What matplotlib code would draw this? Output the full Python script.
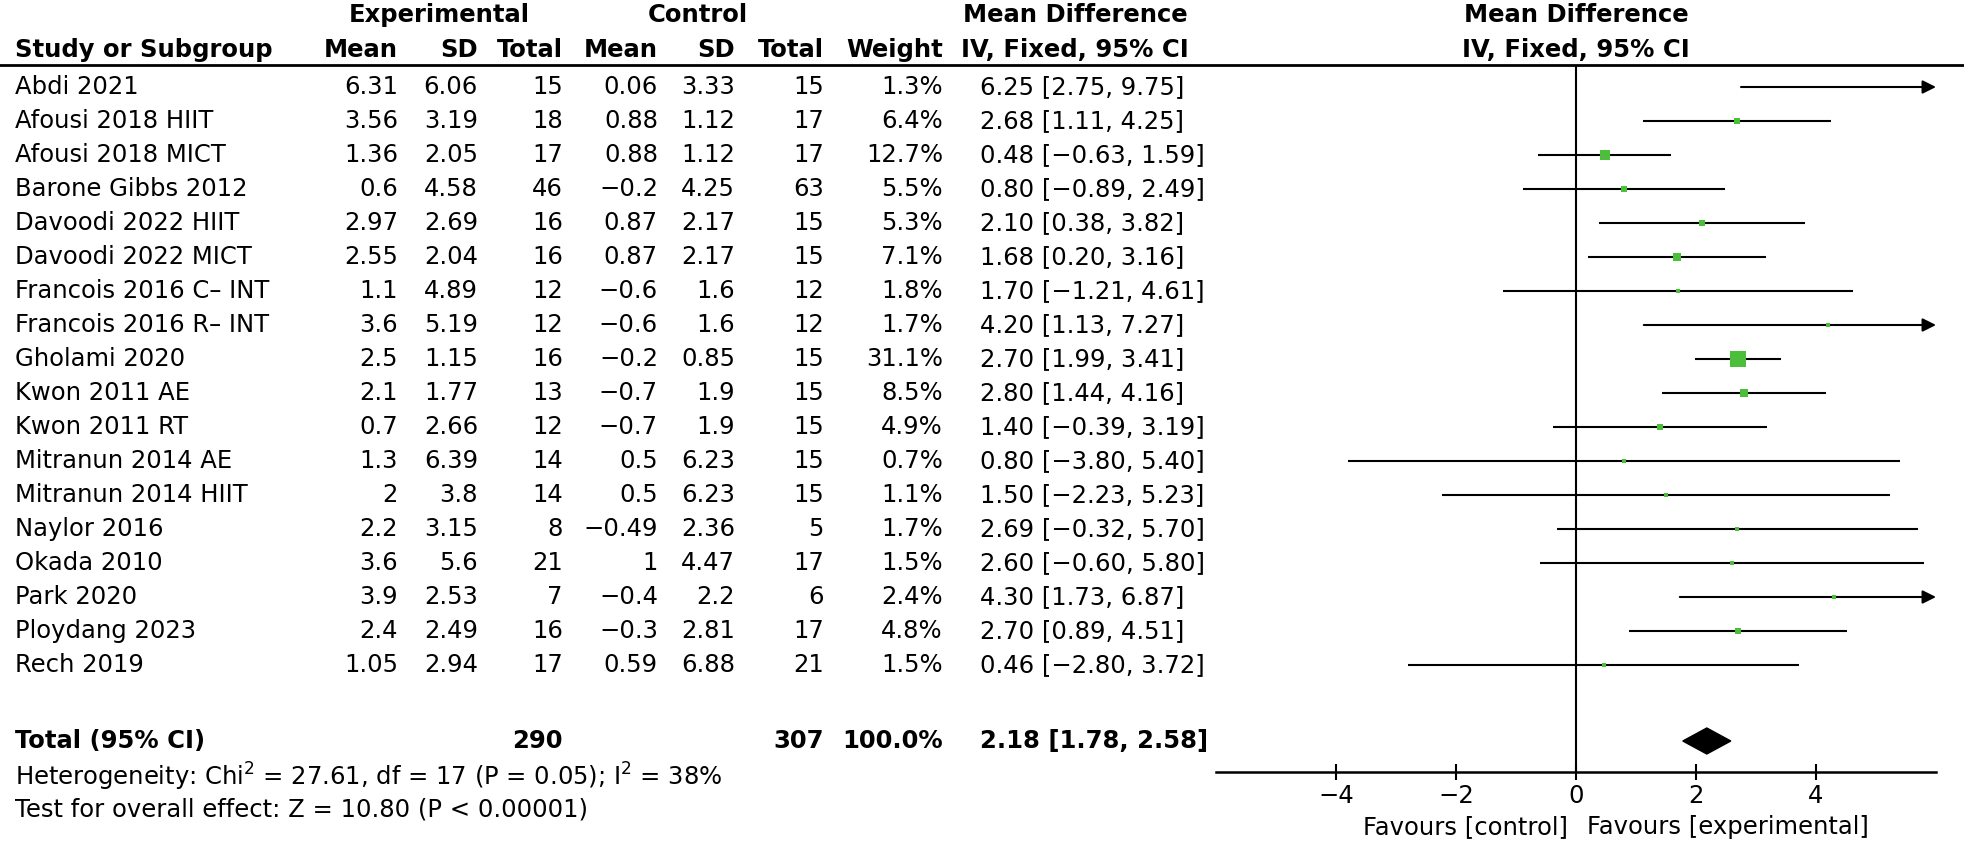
import matplotlib.pyplot as plt
from matplotlib.patches import Polygon

plt.rcParams['font.family'] = ['DejaVu Sans']
plt.rcParams['mathtext.default'] = 'regular'

studies = ["Abdi 2021", "Afousi 2018 HIIT", "Afousi 2018 MICT", "Barone Gibbs 2012",
           "Davoodi 2022 HIIT", "Davoodi 2022 MICT", "Francois 2016 C\u2013 INT",
           "Francois 2016 R\u2013 INT", "Gholami 2020", "Kwon 2011 AE", "Kwon 2011 RT",
           "Mitranun 2014 AE", "Mitranun 2014 HIIT", "Naylor 2016", "Okada 2010",
           "Park 2020", "Ploydang 2023", "Rech 2019"]
exp_mean = [6.31, 3.56, 1.36, 0.6, 2.97, 2.55, 1.1, 3.6, 2.5, 2.1, 0.7, 1.3, 2, 2.2, 3.6, 3.9, 2.4, 1.05]
exp_sd = [6.06, 3.19, 2.05, 4.58, 2.69, 2.04, 4.89, 5.19, 1.15, 1.77, 2.66, 6.39, 3.8, 3.15, 5.6, 2.53, 2.49, 2.94]
exp_n = [15, 18, 17, 46, 16, 16, 12, 12, 16, 13, 12, 14, 14, 8, 21, 7, 16, 17]
ctl_mean = [0.06, 0.88, 0.88, -0.2, 0.87, 0.87, -0.6, -0.6, -0.2, -0.7, -0.7, 0.5, 0.5, -0.49, 1, -0.4, -0.3, 0.59]
ctl_sd = [3.33, 1.12, 1.12, 4.25, 2.17, 2.17, 1.6, 1.6, 0.85, 1.9, 1.9, 6.23, 6.23, 2.36, 4.47, 2.2, 2.81, 6.88]
ctl_n = [15, 17, 17, 63, 15, 15, 12, 12, 15, 15, 15, 15, 15, 5, 17, 6, 17, 21]
weight = [1.3, 6.4, 12.7, 5.5, 5.3, 7.1, 1.8, 1.7, 31.1, 8.5, 4.9, 0.7, 1.1, 1.7, 1.5, 2.4, 4.8, 1.5]
md = [6.25, 2.68, 0.48, 0.80, 2.10, 1.68, 1.70, 4.20, 2.70, 2.80, 1.40, 0.80, 1.50, 2.69, 2.60, 4.30, 2.70, 0.46]
ci_lo = [2.75, 1.11, -0.63, -0.89, 0.38, 0.20, -1.21, 1.13, 1.99, 1.44, -0.39, -3.80, -2.23, -0.32, -0.60, 1.73, 0.89, -2.80]
ci_hi = [9.75, 4.25, 1.59, 2.49, 3.82, 3.16, 4.61, 7.27, 3.41, 4.16, 3.19, 5.40, 5.23, 5.70, 5.80, 6.87, 4.51, 3.72]

total_exp_n = 290
total_ctl_n = 307
total_md, total_lo, total_hi = 2.18, 1.78, 2.58
heterogeneity = r"Heterogeneity: Chi$^{2}$ = 27.61, df = 17 (P = 0.05); I$^{2}$ = 38%"
overall = "Test for overall effect: Z = 10.80 (P < 0.00001)"
xticks = [-4, -2, 0, 2, 4]
xlim = (-6, 6)

W, H = 1964, 842
FS = 17.5
GREEN = '#4cbf3a'


def fmt(v, spec='g'):
    return format(v, spec).replace('-', '\u2212')


def row_y(i):
    return 87 + 34 * i


fig = plt.figure(figsize=(W / 100, H / 100), dpi=100)

# text layer in pixel coordinates
bg = fig.add_axes([0, 0, 1, 1])
bg.set_xlim(0, W)
bg.set_ylim(H, 0)
bg.axis('off')

name_x = 15
col_x = [398, 478, 563, 658, 735, 824, 943]   # right edges
ci_x = 980

bg.text(439, 15, "Experimental", ha='center', va='center', fontsize=FS, fontweight='bold')
bg.text(698, 15, "Control", ha='center', va='center', fontsize=FS, fontweight='bold')
bg.text(1075, 15, "Mean Difference", ha='center', va='center', fontsize=FS, fontweight='bold')
bg.text(1576, 15, "Mean Difference", ha='center', va='center', fontsize=FS, fontweight='bold')

bg.text(name_x, 50, "Study or Subgroup", ha='left', va='center', fontsize=FS, fontweight='bold')
for x, h in zip(col_x, ["Mean", "SD", "Total", "Mean", "SD", "Total", "Weight"]):
    bg.text(x, 50, h, ha='right', va='center', fontsize=FS, fontweight='bold')
bg.text(1075, 50, "IV, Fixed, 95% CI", ha='center', va='center', fontsize=FS, fontweight='bold')
bg.text(1576, 50, "IV, Fixed, 95% CI", ha='center', va='center', fontsize=FS, fontweight='bold')

bg.plot([0, W], [65, 65], color='black', lw=2)

for i, s in enumerate(studies):
    y = row_y(i)
    vals = [fmt(exp_mean[i]), fmt(exp_sd[i]), str(exp_n[i]),
            fmt(ctl_mean[i]), fmt(ctl_sd[i]), str(ctl_n[i]), fmt(weight[i], '.1f') + '%']
    bg.text(name_x, y, s, ha='left', va='center', fontsize=FS)
    for x, v in zip(col_x, vals):
        bg.text(x, y, v, ha='right', va='center', fontsize=FS)
    bg.text(ci_x, y, f"{fmt(md[i], '.2f')} [{fmt(ci_lo[i], '.2f')}, {fmt(ci_hi[i], '.2f')}]",
            ha='left', va='center', fontsize=FS)

ty = 741
bg.text(name_x, ty, "Total (95% CI)", ha='left', va='center', fontsize=FS, fontweight='bold')
bg.text(col_x[2], ty, str(total_exp_n), ha='right', va='center', fontsize=FS, fontweight='bold')
bg.text(col_x[5], ty, str(total_ctl_n), ha='right', va='center', fontsize=FS, fontweight='bold')
bg.text(col_x[6], ty, "100.0%", ha='right', va='center', fontsize=FS, fontweight='bold')
bg.text(ci_x, ty, f"{total_md:.2f} [{total_lo:.2f}, {total_hi:.2f}]",
        ha='left', va='center', fontsize=FS, fontweight='bold')
bg.text(name_x, 777, heterogeneity, ha='left', va='center', fontsize=FS)
bg.text(name_x, 809, overall, ha='left', va='center', fontsize=FS)

bg.text(1568, 827, "Favours [control]", ha='right', va='center', fontsize=FS)
bg.text(1587, 827, "Favours [experimental]", ha='left', va='center', fontsize=FS)

# forest plot
x0, x1 = 1216, 1936
ax = fig.add_axes([x0 / W, 1 - 772 / H, (x1 - x0) / W, (772 - 65) / H])
ax.set_xlim(*xlim)
ax.set_ylim(772, 65)
ax.patch.set_alpha(0)
for sp in ['left', 'right', 'top']:
    ax.spines[sp].set_visible(False)
ax.spines['bottom'].set_linewidth(1.8)
ax.set_yticks([])
ax.set_xticks(xticks)
ax.set_xticklabels([fmt(t) for t in xticks])
ax.tick_params(axis='x', direction='inout', length=11, width=1.5, labelsize=FS, pad=3)
ax.axvline(0, color='black', lw=1.5)

for i in range(len(studies)):
    y = row_y(i)
    lo = max(ci_lo[i], xlim[0])
    hi = min(ci_hi[i], xlim[1])
    if ci_hi[i] > xlim[1]:
        ax.annotate('', xy=(hi, y), xytext=(lo, y),
                    arrowprops=dict(arrowstyle='-|>', color='black', lw=1.5,
                                    mutation_scale=20, shrinkA=0, shrinkB=0))
    else:
        ax.plot([lo, hi], [y, y], color='black', lw=1.5, solid_capstyle='butt')
    if xlim[0] <= md[i] <= xlim[1]:
        side = max(2.69 * weight[i] ** 0.5, 4) * 0.72
        ax.plot(md[i], y, marker='s', ms=side, mew=0, color=GREEN, zorder=3)

ax.add_patch(Polygon([(total_lo, ty), (total_md, ty - 13), (total_hi, ty), (total_md, ty + 13)],
                     closed=True, color='black'))

fig.savefig('out.png', dpi=100)
